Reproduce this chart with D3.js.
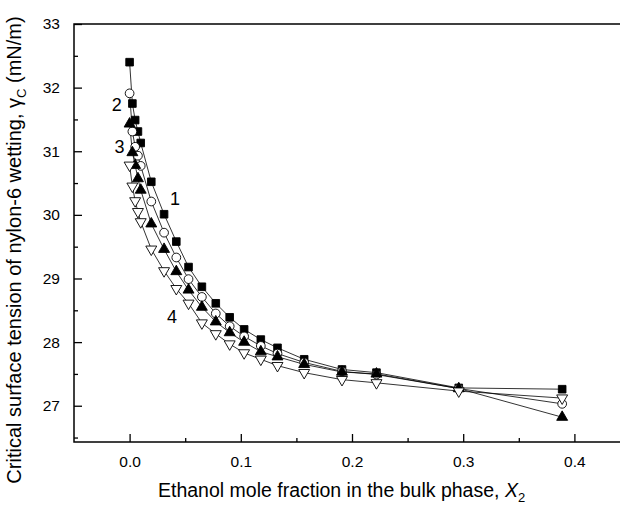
<!DOCTYPE html>
<html>
<head>
<meta charset="utf-8">
<script src="https://cdn.jsdelivr.net/npm/d3@7"></script>
<style>
  body { margin: 0; background: #fff; }
  svg { display: block; font-family: "Liberation Sans", Arial, sans-serif; }
</style>
</head>
<body>
<div id="chart"></div>
<script>
// ethanol mole fraction (shared by all four curves)
var xVals = [0, 0.0025, 0.005, 0.0075, 0.010, 0.0195, 0.031, 0.042, 0.053, 0.065,
             0.0775, 0.090, 0.103, 0.118, 0.133, 0.157, 0.191, 0.222, 0.296, 0.389];
var curve1 = [32.40, 31.75, 31.49, 31.31, 31.13, 30.52, 30.01, 29.58, 29.18, 28.87,
              28.61, 28.39, 28.20, 28.04, 27.91, 27.73, 27.57, 27.52, 27.28, 27.26];
var curve2 = [31.91, 31.31, 31.07, 30.93, 30.77, 30.21, 29.72, 29.33, 28.99, 28.71,
              28.45, 28.25, 28.09, 27.94, 27.82, 27.68, 27.54, 27.49, 27.27, 27.03];
var curve3 = [31.43, 30.98, 30.78, 30.57, 30.39, 29.86, 29.46, 29.11, 28.82, 28.55,
              28.32, 28.15, 28.00, 27.85, 27.77, 27.65, 27.53, 27.50, 27.27, 26.82];
var curve4 = [30.78, 30.45, 30.22, 30.05, 29.89, 29.46, 29.12, 28.84, 28.61, 28.30,
              28.13, 27.97, 27.83, 27.73, 27.63, 27.52, 27.41, 27.36, 27.23, 27.12];
var curveNames = ["1", "2", "3", "4"];
var labelX = [0.0408, -0.0115, -0.0091, 0.0381];
var labelY = [30.26, 31.73, 31.08, 28.41];
var xTicks = [0.0, 0.1, 0.2, 0.3, 0.4];
var xMinor = [0.05, 0.15, 0.25, 0.35];
var yTicks = [27, 28, 29, 30, 31, 32, 33];
var yMinor = [26.5, 27.5, 28.5, 29.5, 30.5, 31.5, 32.5];

var W = 620, H = 505;
var pLeft = 74, pTop = 24, pRight = 630, pBottom = 442;

var svg = d3.select("#chart").append("svg")
    .attr("width", W)
    .attr("height", H);

var x = d3.scaleLinear().domain([-0.05, 0.45]).range([pLeft, pRight]);
var y = d3.scaleLinear().domain([26.43, 33]).range([pBottom, pTop]);

// frame
svg.append("rect")
    .attr("x", pLeft).attr("y", pTop)
    .attr("width", pRight - pLeft).attr("height", pBottom - pTop)
    .attr("fill", "none")
    .attr("stroke", "#000")
    .attr("stroke-width", 1.5);

// axes, ticks pointing inward
svg.append("g")
    .attr("transform", "translate(0," + pBottom + ")")
    .call(d3.axisBottom(x).tickValues(xTicks).tickFormat(d3.format(".1f"))
        .tickSizeInner(-8).tickSizeOuter(0).tickPadding(14));
svg.append("g")
    .attr("transform", "translate(0," + pBottom + ")")
    .call(d3.axisBottom(x).tickValues(xMinor).tickFormat("")
        .tickSizeInner(-4).tickSizeOuter(0));

svg.append("g")
    .attr("transform", "translate(" + pLeft + ",0)")
    .call(d3.axisLeft(y).tickValues(yTicks).tickFormat(d3.format("d"))
        .tickSizeInner(-8).tickSizeOuter(0).tickPadding(14));
svg.append("g")
    .attr("transform", "translate(" + pLeft + ",0)")
    .call(d3.axisLeft(y).tickValues(yMinor).tickFormat("")
        .tickSizeInner(-4).tickSizeOuter(0));

svg.selectAll(".domain").remove();
svg.selectAll(".tick line").attr("stroke", "#000").attr("stroke-width", 1.3);
svg.selectAll(".tick text")
    .attr("fill", "#000")
    .style("font-size", "15.5px")
    .style("font-family", "'Liberation Sans', Arial, sans-serif");

// axis titles
var xt = svg.append("text")
    .attr("x", 158)
    .attr("y", 497)
    .style("font-size", "19.5px");
xt.append("tspan").text("Ethanol mole fraction in the bulk phase, ");
xt.append("tspan").attr("font-style", "italic").text("X");
xt.append("tspan").attr("dy", 5).style("font-size", "13px").text("2");

var yt = svg.append("text")
    .attr("transform", "translate(21,250) rotate(-90)")
    .attr("text-anchor", "middle")
    .style("font-size", "20px");
yt.append("tspan").text("Critical surface tension of nylon-6 wetting, γ");
yt.append("tspan").attr("dy", 5).style("font-size", "13px").text("C");
yt.append("tspan").attr("dy", -5).text(" (mN/m)");

// curves
var series = [curve1, curve2, curve3, curve4].map(function(vals) {
    return vals.map(function(v, i) { return [xVals[i], v]; });
});

var line = d3.line()
    .x(function(d) { return x(d[0]); })
    .y(function(d) { return y(d[1]); });

svg.selectAll(".curve")
    .data(series)
    .enter().append("path")
    .attr("class", "curve")
    .attr("d", line)
    .attr("fill", "none")
    .attr("stroke", "#000")
    .attr("stroke-width", 0.8);

var shapes = [d3.symbolSquare, d3.symbolCircle, d3.symbolTriangle, d3.symbolTriangle];
var sizes = [58, 60, 52, 52];
var fills = ["#000", "#fff", "#000", "#fff"];

series.forEach(function(pts, k) {
    var sym = d3.symbol().type(shapes[k]).size(sizes[k]);
    svg.append("g").selectAll("path")
        .data(pts)
        .enter().append("path")
        .attr("d", sym)
        .attr("transform", function(d) {
            var t = "translate(" + x(d[0]) + "," + y(d[1]) + ")";
            return k == 3 ? t + " rotate(180)" : t;
        })
        .attr("fill", fills[k])
        .attr("stroke", "#000")
        .attr("stroke-width", 0.9);
});

// curve numbers
svg.selectAll(".num")
    .data(curveNames)
    .enter().append("text")
    .attr("class", "num")
    .attr("x", function(d, i) { return x(labelX[i]); })
    .attr("y", function(d, i) { return y(labelY[i]); })
    .attr("dy", "0.36em")
    .attr("text-anchor", "middle")
    .style("font-size", "18px")
    .text(function(d) { return d; });
</script>
</body>
</html>
